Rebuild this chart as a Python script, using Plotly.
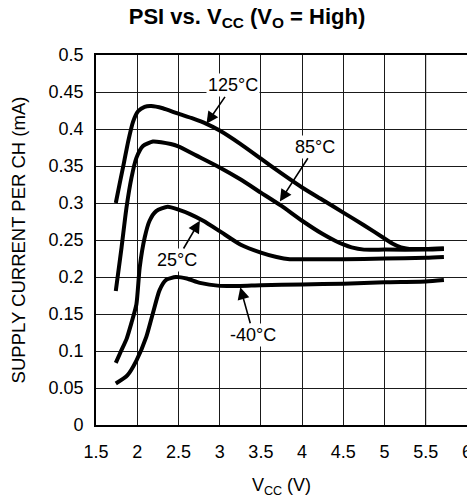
import plotly.graph_objects as go

# ---- data ----
v_125 = [1.74, 1.79, 1.84, 1.89, 1.95, 2.01, 2.09, 2.17, 2.31, 2.49, 2.68, 2.84, 3.0, 3.25, 3.5, 3.75,
         4.0, 4.25, 4.5, 4.75, 5.0, 5.1, 5.2, 5.3, 5.5, 5.72]
i_125 = [0.300, 0.328, 0.355, 0.383, 0.410, 0.424, 0.430, 0.431, 0.428, 0.421, 0.414, 0.407, 0.398, 0.380,
         0.360, 0.340, 0.321, 0.304, 0.287, 0.270, 0.252, 0.245, 0.240, 0.238, 0.238, 0.239]

v_85 = [1.74, 1.81, 1.87, 1.93, 1.99, 2.07, 2.19, 2.29, 2.49, 2.72, 3.0, 3.25, 3.5, 3.75, 4.0, 4.25,
        4.4, 4.5, 4.6, 4.75, 5.0, 5.5, 5.72]
i_85 = [0.181, 0.240, 0.294, 0.334, 0.361, 0.377, 0.383, 0.382, 0.377, 0.364, 0.348, 0.332, 0.314, 0.296,
        0.276, 0.258, 0.249, 0.244, 0.240, 0.237, 0.237, 0.237, 0.238]

v_25 = [1.74, 1.80, 1.87, 1.93, 1.99, 2.03, 2.09, 2.15, 2.23, 2.37, 2.5, 2.64, 2.8, 3.0, 3.25, 3.5,
        3.69, 3.85, 4.0, 4.5, 5.0, 5.5, 5.72]
i_25 = [0.084, 0.099, 0.116, 0.138, 0.163, 0.213, 0.253, 0.276, 0.289, 0.295, 0.291, 0.285, 0.276, 0.262,
        0.244, 0.233, 0.227, 0.224, 0.224, 0.224, 0.225, 0.226, 0.227]

v_m40 = [1.74, 1.88, 1.99, 2.11, 2.19, 2.27, 2.35, 2.47, 2.6, 2.76, 3.0, 3.25, 3.5, 4.0, 4.5, 5.0, 5.5, 5.72]
i_m40 = [0.056, 0.067, 0.087, 0.119, 0.151, 0.182, 0.196, 0.200, 0.198, 0.192, 0.188, 0.188, 0.189, 0.190,
         0.191, 0.193, 0.194, 0.196]

x_ticks = [1.5, 2, 2.5, 3, 3.5, 4, 4.5, 5, 5.5, 6]
x_tick_labels = ["1.5", "2", "2.5", "3", "3.5", "4", "4.5", "5", "5.5", "6"]
y_ticks = [0, 0.05, 0.1, 0.15, 0.2, 0.25, 0.3, 0.35, 0.4, 0.45, 0.5]
y_tick_labels = ["0", "0.05", "0.1", "0.15", "0.2", "0.25", "0.3", "0.35", "0.4", "0.45", "0.5"]

# label: (text centre V, text centre I, arrow tip V, arrow tip I)
labels = ["125°C", "85°C", "25°C", "-40°C"]
label_v = [3.16, 4.16, 2.48, 3.41]
label_i = [0.459, 0.376, 0.223, 0.122]
tip_v = [2.84, 3.73, 2.76, 3.25]
tip_i = [0.407, 0.302, 0.276, 0.186]

FONT = "Liberation Sans, Arial, Helvetica, sans-serif"

fig = go.Figure()
for vx, iy in [(v_125, i_125), (v_85, i_85), (v_25, i_25), (v_m40, i_m40)]:
    fig.add_trace(go.Scatter(x=vx, y=iy, mode="lines",
                             line=dict(color="black", width=4, shape="spline", smoothing=0.6),
                             showlegend=False, hoverinfo="skip"))

for t, lx, ly, tx, ty in zip(labels, label_v, label_i, tip_v, tip_i):
    fig.add_annotation(x=tx, y=ty, ax=lx, ay=ly, xref="x", yref="y", axref="x", ayref="y",
                       text=t, showarrow=True, arrowhead=2, arrowsize=1.5, arrowwidth=1.6,
                       arrowcolor="black", bgcolor="white", borderpad=1,
                       font=dict(family=FONT, size=18, color="black"))

# lighter last vertical grid line, as in the reference
fig.add_shape(type="line", xref="x", yref="paper", x0=x_ticks[-2], x1=x_ticks[-2], y0=0, y1=1,
              line=dict(color="#a0a0a0", width=1.4), layer="between")

# The page body has an 8px margin, so the figure is sized to the visible area.
fig.update_layout(
    width=467, height=493,
    margin=dict(l=88, r=8, t=47, b=76, autoexpand=False),
    paper_bgcolor="white", plot_bgcolor="white",
    font=dict(family=FONT, size=18, color="black"),
    title=dict(text="<b>PSI vs. V<sub>CC</sub> (V<sub>O</sub> = High)</b>",
               xref="container", yref="container", x=239 / 467, xanchor="center",
               y=1 - 8 / 493, yanchor="middle",
               font=dict(family=FONT, size=22, color="black")),
    xaxis=dict(range=[1.5, 6], tickmode="array", tickvals=x_ticks, ticktext=x_tick_labels,
               ticks="outside", ticklen=10, tickcolor="rgba(0,0,0,0)",
               showgrid=True, gridcolor="#1a1a1a", gridwidth=1.4, zeroline=False,
               showline=True, linecolor="black", linewidth=1.6, mirror=True,
               title=dict(text="V<sub>CC</sub> (V)", font=dict(family=FONT, size=18), standoff=17),
               automargin=False),
    yaxis=dict(range=[0, 0.5], tickmode="array", tickvals=y_ticks, ticktext=y_tick_labels,
               ticks="outside", ticklen=7, tickcolor="rgba(0,0,0,0)",
               showgrid=True, gridcolor="#1a1a1a", gridwidth=1.4, zeroline=False,
               showline=True, linecolor="black", linewidth=1.6, mirror=True,
               title=dict(text="SUPPLY CURRENT PER CH (mA)", font=dict(family=FONT, size=18.5), standoff=23),
               automargin=False),
)

fig.write_html("out.html")
